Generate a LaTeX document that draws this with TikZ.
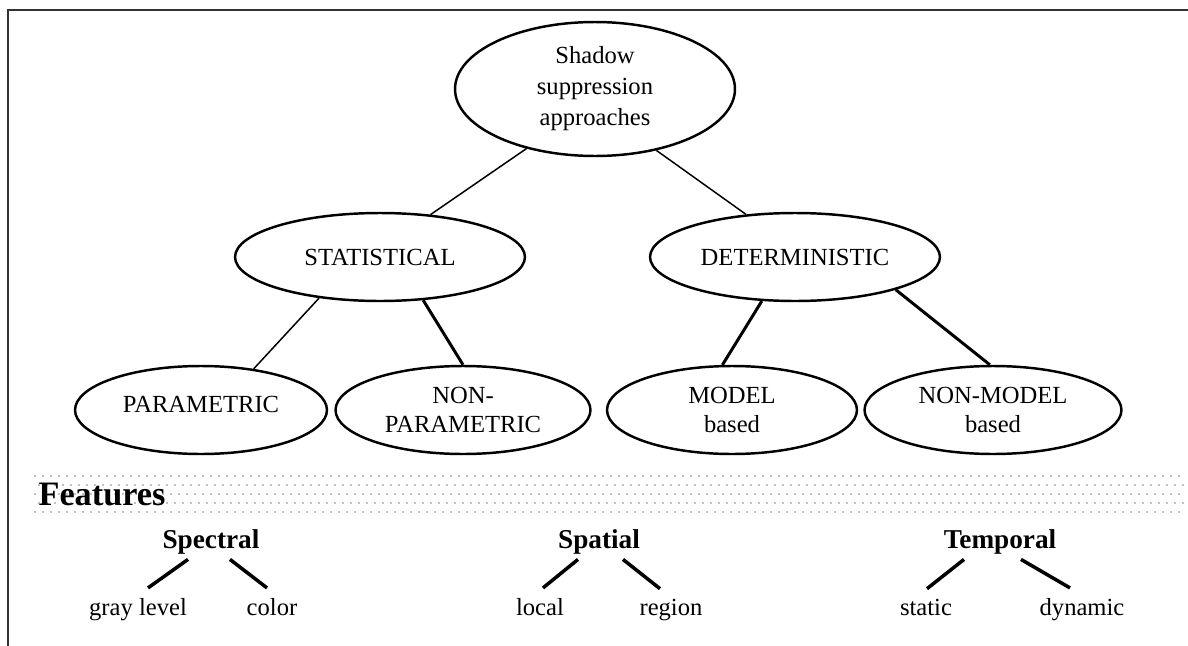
\documentclass[tikz,border=0pt]{standalone}
\usepackage{fontspec}
\setmainfont{Liberation Serif}
\usetikzlibrary{shapes.geometric}

\begin{document}
\begin{tikzpicture}[x=0.02cm, y=-0.02cm,
    oval/.style={ellipse, draw, line width=1.4pt, inner sep=0pt, align=center,
      font=\fontsize{14}{16}\selectfont},
    twig/.style={line width=0.85pt},
    bough/.style={line width=1.7pt},
    feature/.style={anchor=base, inner sep=3pt, font=\fontsize{15.5}{18}\selectfont\bfseries},
    leaf/.style={anchor=base, inner xsep=3pt, inner ysep=5.5pt, font=\fontsize{14}{17}\selectfont},
    sprig/.style={line width=2pt}]
    \useasboundingbox (0,0) rectangle (1188,646);
    \draw[line width=1.1pt, black!80] (8,646) -- (8,10) -- (1188,10);

    % approaches tree
    \node(root) [oval, minimum width=5.6cm, minimum height=2.68cm, font=\fontsize{14}{17.6}\selectfont] at (595,89) {Shadow\\suppression\\approaches};
    \node(stat) [oval, minimum width=5.8cm, minimum height=1.76cm] at (380,257) {STATISTICAL};
    \node(det) [oval, minimum width=5.8cm, minimum height=1.76cm] at (795,257) {DETERMINISTIC};
    \node(param) [oval, minimum width=5.04cm, minimum height=1.76cm, text depth=0.65em] at (201,410) {PARAMETRIC};
    \node(nonparam) [oval, minimum width=5.1cm, minimum height=1.76cm] at (463,410) {NON-\\PARAMETRIC};
    \node(model) [oval, minimum width=5cm, minimum height=1.76cm] at (732,410) {MODEL\\based};
    \node(nonmodel) [oval, minimum width=5.14cm, minimum height=1.76cm] at (993,410) {NON-MODEL\\based};
    \draw[twig] (root.221) -- (stat.40);
    \draw[twig] (root.315) -- (det.139);
    \draw[twig] (stat.214) -- (param.38);
    \draw[bough] (stat.315) -- (nonparam.90);
    \draw[bough] (det.233) -- (model.102);
    \draw[bough] (det.342) -- (nonmodel.94);

    % dotted band
    \foreach \r in {0,...,4}
      \foreach \c in {0,...,143}
        \fill[black!50] ({35+8*\c+4*mod(\r,2)},{476+9*\r}) circle (0.017cm);

    % features
    \node(feat) [anchor=base, font=\fontsize{19.5}{22}\selectfont\bfseries] at (102,505) {Features};
    \node(spectral) [feature] at (211,548) {Spectral};
    \node(spatial) [feature] at (599,548) {Spatial};
    \node(temporal) [feature] at (1000,548) {Temporal};
    \node(gray) [leaf] at (138,615) {gray level};
    \node(color) [leaf] at (272,615) {color};
    \node(local) [leaf] at (540,615) {local};
    \node(region) [leaf] at (671,615) {region};
    \node(static) [leaf] at (926,615) {static};
    \node(dynamic) [leaf] at (1082,615) {dynamic};
    \draw[sprig] ([xshift=-0.46cm]spectral.south) -- ([xshift=0.2cm]gray.north);
    \draw[sprig] ([xshift=0.38cm]spectral.south) -- ([xshift=-0.1cm]color.north);
    \draw[sprig] ([xshift=-0.42cm]spatial.south) -- ([xshift=0.06cm]local.north);
    \draw[sprig] ([xshift=0.48cm]spatial.south) -- ([xshift=-0.22cm]region.north);
    \draw[sprig] ([xshift=-0.72cm]temporal.south) -- ([xshift=0.02cm]static.north);
    \draw[sprig] ([xshift=0.42cm]temporal.south) -- ([xshift=-0.24cm]dynamic.north);
  \end{tikzpicture}
\end{document}
